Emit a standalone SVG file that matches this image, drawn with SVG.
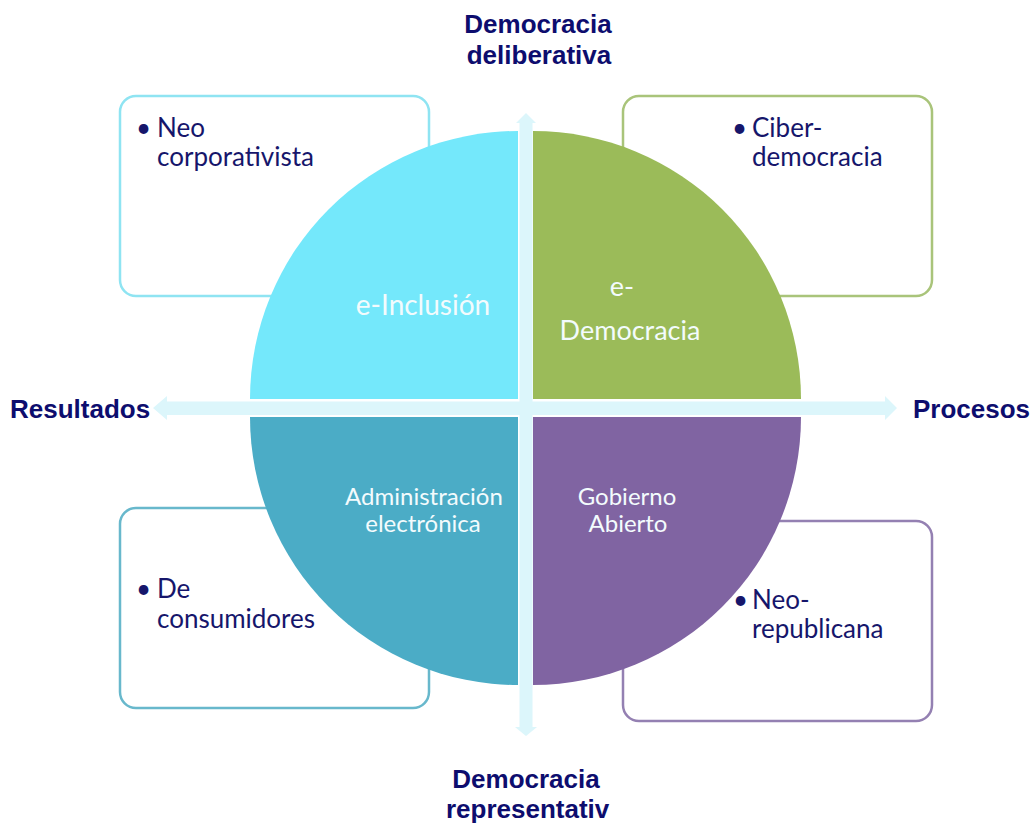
<svg xmlns="http://www.w3.org/2000/svg" width="1036" height="825" viewBox="0 0 1036 825">
<style>
.box{fill:#ffffff;stroke-width:2.5}
.bt{font-family:Lato,"Open Sans","Liberation Sans",sans-serif;font-size:26px;fill:#16166b}
.ql{font-family:Lato,"Open Sans","Liberation Sans",sans-serif;fill:#f3fbfd;text-anchor:middle}
.ax{font-family:"Liberation Sans",Arial,sans-serif;font-weight:bold;font-size:26px;fill:#0d0d6e}
.arr{fill:#dcf6fb}
</style>
<rect width="1036" height="825" fill="#ffffff"/>
<g id="box-neocorporativista">
<rect class="box" x="120" y="96" width="309" height="200" rx="16" stroke="#8fe4f2"/>
<text class="bt" x="136" y="137">•</text>
<text class="bt" x="157" y="137">Neo</text>
<text class="bt" x="157" y="166">corporativista</text>
</g>
<g id="box-ciberdemocracia">
<rect class="box" x="623" y="96" width="309" height="200" rx="16" stroke="#a9c47a"/>
<text class="bt" x="732" y="137">•</text>
<text class="bt" x="752" y="137">Ciber-</text>
<text class="bt" x="752" y="166">democracia</text>
</g>
<g id="box-consumidores">
<rect class="box" x="120" y="508" width="309" height="200" rx="16" stroke="#68b8cc"/>
<text class="bt" x="136" y="598">•</text>
<text class="bt" x="157" y="598">De</text>
<text class="bt" x="157" y="628">consumidores</text>
</g>
<g id="box-neorepublicana">
<rect class="box" x="623" y="521" width="309" height="200" rx="16" stroke="#9480b2"/>
<text class="bt" x="733" y="609">•</text>
<text class="bt" x="752" y="609">Neo-</text>
<text class="bt" x="752" y="638">republicana</text>
</g>
<g id="q-einclusion">
<path d="M518,399 L250,399 A268,268 0 0 1 518,131 Z" fill="#74e8fb"/>
<text class="ql" x="423" y="315" font-size="28">e-Inclusión</text>
</g>
<g id="q-edemocracia">
<path d="M533,399 L533,131 A268,268 0 0 1 801,399 Z" fill="#9bbb59"/>
<text class="ql" x="622" y="296" font-size="27">e-</text>
<text class="ql" x="630" y="340" font-size="27">Democracia</text>
</g>
<g id="q-administracion">
<path d="M518,417 L518,685 A268,268 0 0 1 250,417 Z" fill="#4bacc6"/>
<text class="ql" x="424" y="505" font-size="24">Administración</text>
<text class="ql" x="423" y="532" font-size="24">electrónica</text>
</g>
<g id="q-gobierno">
<path d="M533,417 L801,417 A268,268 0 0 1 533,685 Z" fill="#8064a2"/>
<text class="ql" x="627" y="505" font-size="24">Gobierno</text>
<text class="ql" x="628" y="532" font-size="24">Abierto</text>
</g>
<g id="connectors">
<polygon class="arr" points="526,113 536,123 532.5,123 532.5,727 537,727 526,736 515,727 519.5,727 519.5,123 516,123"/>
<polygon class="arr" points="153,408 167,396 167,401.5 885,401.5 885,396 897,408 885,420 885,415 167,415 167,420"/>
</g>
<g id="labels">
<text class="ax" x="538" y="33" text-anchor="middle">Democracia</text>
<text class="ax" x="539" y="64" text-anchor="middle">deliberativa</text>
<text class="ax" x="10" y="418">Resultados</text>
<text class="ax" x="913" y="418">Procesos</text>
<text class="ax" x="526" y="788" text-anchor="middle">Democracia</text>
<text class="ax" x="446" y="818">representativ</text>
</g>
</svg>
